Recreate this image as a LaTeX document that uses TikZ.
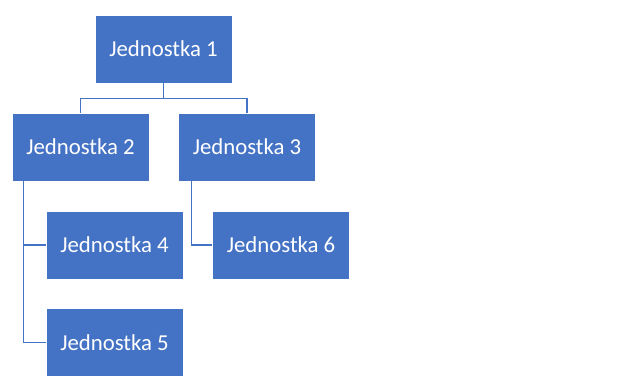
\documentclass[tikz,border=0pt]{standalone}
\usepackage{fontspec}
\setmainfont{Carlito}
\usepackage{tikz}
\usepackage{xcolor}
\definecolor{unitblue}{RGB}{68,114,196}

\begin{document}
\begin{tikzpicture}[x=1pt,y=-1pt]
\tikzstyle{every node}=[font=\fontsize{22.8}{26}\selectfont]
\tikzstyle{unit}=[rectangle, fill=unitblue, draw=white, line width=0.8pt, text=white, minimum width=137pt, minimum height=68pt, inner sep=0pt]
\tikzstyle{link}=[draw=unitblue, line width=1.2pt]
\useasboundingbox (0,0) rectangle (621,383);
\node [unit] (j1) at (163.5,49) {Jednostka 1};
\node [unit] (j2) at (80.5,147) {Jednostka 2};
\node [unit] (j3) at (247,147) {Jednostka 3};
\node [unit] (j4) at (114.5,245) {Jednostka 4};
\node [unit] (j6) at (281,245) {Jednostka 6};
\node [unit] (j5) at (114.5,342.5) {Jednostka 5};
\draw [link] (j1.south) -- ++(0,15) -| (j2.north);
\draw [link] (j1.south) -- ++(0,15) -| (j3.north);
\draw [link] ([xshift=12pt]j2.south west) |- (j4.west);
\draw [link] ([xshift=12pt]j2.south west) |- (j5.west);
\draw [link] ([xshift=13pt]j3.south west) |- (j6.west);
\end{tikzpicture}
\end{document}
